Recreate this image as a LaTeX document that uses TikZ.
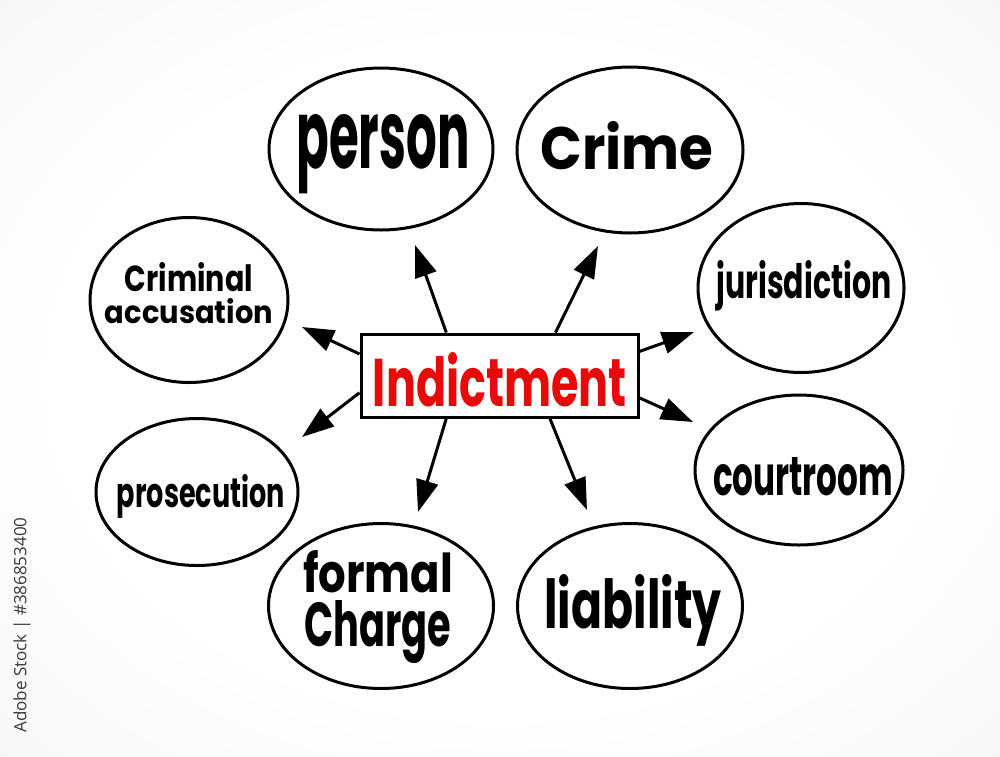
\documentclass[tikz,border=0pt]{standalone}
\usepackage{fontspec}
\setmainfont{Poppins}
\newfontfamily\wmfont{Open Sans}
\usetikzlibrary{shapes.geometric,arrows.meta,calc}
\definecolor{bggray}{HTML}{E2E2E6}
\definecolor{indred}{HTML}{E60A0A}
\definecolor{wmgray}{HTML}{3A3A3A}
\pgfdeclareradialshading{bgshade}{\pgfpoint{0bp}{0bp}}{color(0bp)=(white); color(22bp)=(white); color(72bp)=(bggray)}
\newcommand{\fitword}[3]{\resizebox{#1pt}{#2pt}{\bfseries #3}}
\begin{document}
\begin{tikzpicture}[x=1pt,y=-1pt,
  bubble/.style={draw, line width=3pt, ellipse, inner sep=0pt},
  word/.style={inner sep=0pt, text=black, align=center},
  link/.style={line width=3pt, -{Triangle[length=32pt,width=22pt]}},
]
\useasboundingbox (0,0) rectangle (1000,756);
\shade[shading=bgshade] (0,0) rectangle (1000,756);

% watermark id
\node[rotate=90, text=wmgray, inner sep=0pt] (wm) at (22,625) {\resizebox{215pt}{!}{\wmfont Adobe Stock | \#386853400}};

% bubbles
\node[bubble, minimum width=224pt, minimum height=162pt] (personE) at (381,149) {};
\node[bubble, minimum width=226pt, minimum height=166pt] (crimeE) at (630,150) {};
\node[bubble, minimum width=206pt, minimum height=169pt] (jurisE) at (801,288) {};
\node[bubble, minimum width=208pt, minimum height=150pt] (courtE) at (799,470) {};
\node[bubble, minimum width=225pt, minimum height=165pt] (liabE) at (630,606) {};
\node[bubble, minimum width=225pt, minimum height=165pt] (formalE) at (381,606) {};
\node[bubble, minimum width=202pt, minimum height=147pt] (prosE) at (197,492) {};
\node[bubble, minimum width=198pt, minimum height=165pt] (accE) at (189,300) {};

% words
\node[word] (personT) at (383,154) {\fitword{173}{54}{person}};
\node[word] (crimeT) at (627,146) {\fitword{173}{48}{Crime}};
\node[word] (jurisT) at (804,286) {\fitword{175}{38}{jurisdiction}};
\node[word] (courtT) at (803,477) {\fitword{180}{38}{courtroom}};
\node[word] (liabT) at (633,610) {\fitword{177}{54}{liability}};
\node[word] (formalT) at (378,607) {\fitword{150}{42}{formal}\\[7pt]\fitword{147}{46}{Charge}};
\node[word] (prosT) at (201,496) {\fitword{168}{33}{prosecution}};
\node[word] (accT) at (189,293) {\fitword{128}{29}{Criminal}\\[5pt]\fitword{168}{25}{accusation}};

% centre
\node[draw, line width=3pt, minimum width=277pt, minimum height=83pt, inner sep=0pt, fill=white] (ind) at (499.5,375.5) {};
\node[inner sep=0pt, text=indred] (indT) at (500,380) {\fitword{254}{54}{Indictment}};

% arrow tips
\coordinate (tPerson) at (415,245);
\coordinate (tCrime) at (598,246);
\coordinate (tAcc) at (302,327);
\coordinate (tPros) at (302,437);
\coordinate (tFormal) at (418,512);
\coordinate (tLiab) at (587,510);
\coordinate (tJuris) at (694,332);
\coordinate (tCourt) at (693,422);

\draw[link] ($(ind.north west)!0.31!(ind.north east)$) -- (tPerson);
\draw[link] ($(ind.north west)!0.70!(ind.north east)$) -- (tCrime);
\draw[link] ($(ind.north west)!0.25!(ind.south west)$) -- (tAcc);
\draw[link] ($(ind.north west)!0.70!(ind.south west)$) -- (tPros);
\draw[link] ($(ind.south west)!0.31!(ind.south east)$) -- (tFormal);
\draw[link] ($(ind.south west)!0.68!(ind.south east)$) -- (tLiab);
\draw[link] ($(ind.north east)!0.22!(ind.south east)$) -- (tJuris);
\draw[link] ($(ind.north east)!0.76!(ind.south east)$) -- (tCourt);
\end{tikzpicture}
\end{document}
